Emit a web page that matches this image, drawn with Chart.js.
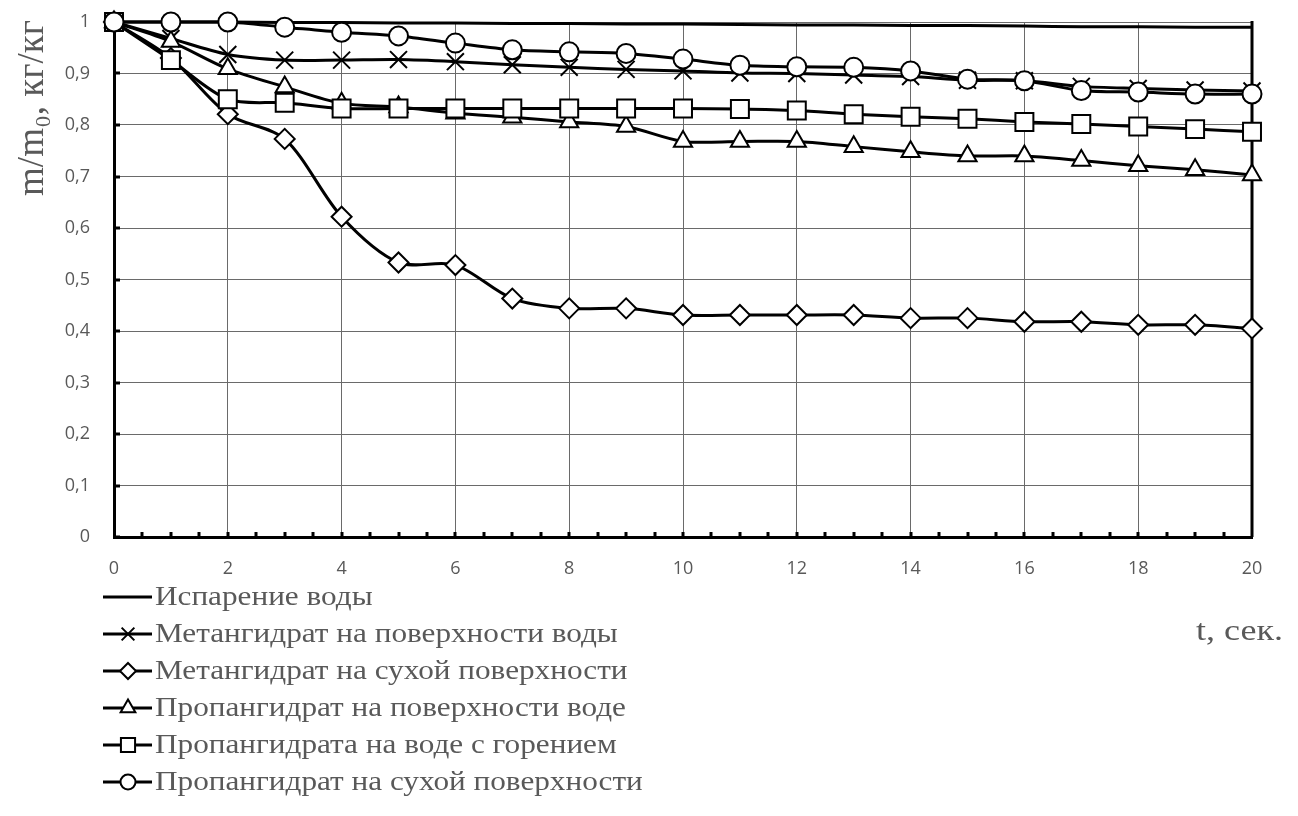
<!DOCTYPE html>
<html>
<head>
<meta charset="utf-8">
<script src="https://cdn.jsdelivr.net/npm/chart.js@4.4.1/dist/chart.umd.min.js"></script>
<style>
  html, body { margin: 0; padding: 0; background: #ffffff; }
  #wrap { width: 1298px; height: 816px; position: relative; }
</style>
</head>
<body>
<div id="wrap"><canvas id="c" width="1298" height="816"></canvas></div>
<script>
// ---- data ----
const timeSec = [0, 1, 2, 3, 4, 5, 6, 7, 8, 9, 10, 11, 12, 13, 14, 15, 16, 17, 18, 19, 20];
const seriesNames = [
  'Испарение воды',
  'Метангидрат на поверхности воды',
  'Метангидрат на сухой поверхности',
  'Пропангидрат на поверхности воде',
  'Пропангидрата на воде с горением',
  'Пропангидрат на сухой поверхности'
];
const waterEvap   = [1, 1, 1, 0.999, 0.999, 0.998, 0.998, 0.997, 0.997, 0.996, 0.996, 0.995, 0.994, 0.994, 0.993, 0.993, 0.992, 0.991, 0.991, 0.990, 0.990];
const methWater   = [1, 0.968, 0.937, 0.926, 0.926, 0.927, 0.923, 0.917, 0.912, 0.908, 0.905, 0.901, 0.900, 0.897, 0.894, 0.887, 0.886, 0.875, 0.871, 0.868, 0.866];
const methDry     = [1, 0.930, 0.821, 0.773, 0.622, 0.533, 0.528, 0.463, 0.444, 0.444, 0.431, 0.431, 0.431, 0.431, 0.425, 0.425, 0.418, 0.418, 0.412, 0.412, 0.405];
const propWater   = [1, 0.962, 0.909, 0.874, 0.842, 0.835, 0.823, 0.815, 0.806, 0.797, 0.768, 0.768, 0.768, 0.758, 0.748, 0.740, 0.740, 0.731, 0.721, 0.713, 0.703];
const propBurn    = [1, 0.926, 0.850, 0.843, 0.832, 0.832, 0.832, 0.832, 0.832, 0.832, 0.832, 0.831, 0.828, 0.821, 0.816, 0.812, 0.806, 0.802, 0.797, 0.792, 0.787];
const propDry     = [1, 1.0, 1.0, 0.990, 0.980, 0.973, 0.959, 0.946, 0.942, 0.939, 0.928, 0.916, 0.913, 0.912, 0.905, 0.889, 0.886, 0.867, 0.864, 0.860, 0.860];
const yTicks = [0, 0.1, 0.2, 0.3, 0.4, 0.5, 0.6, 0.7, 0.8, 0.9, 1];
const xTicks = [0, 2, 4, 6, 8, 10, 12, 14, 16, 18, 20];
const yTitle = 'm/m₀, кг/кг';
const xTitle = 't, сек.';

const allSeries = [waterEvap, methWater, methDry, propWater, propBurn, propDry];
const styles = [
  { pointStyle: false, radius: 0, legendR: 0 },
  { pointStyle: 'crossRot', radius: 12, legendR: 9 },
  { pointStyle: 'rectRot', radius: 10, legendR: 8 },
  { pointStyle: 'triangle', radius: 10.5, legendR: 8.5 },
  { pointStyle: 'rect', radius: 12.7, legendR: 10 },
  { pointStyle: 'circle', radius: 9.5, legendR: 7.5 }
];

const datasets = allSeries.map((vals, i) => ({
  label: seriesNames[i],
  data: timeSec.map((t, k) => ({ x: t, y: vals[k] })),
  borderColor: '#000000',
  borderWidth: 3,
  backgroundColor: '#ffffff',
  pointStyle: styles[i].pointStyle,
  pointRadius: styles[i].radius,
  pointHoverRadius: styles[i].radius,
  pointBackgroundColor: '#ffffff',
  pointBorderColor: '#000000',
  pointBorderWidth: 2,
  tension: 0.3,
  clip: false,
  order: 6 - i
}));

const TXT = '#595959';
const SERIF = '"Liberation Serif", "Times New Roman", serif';

function drawMarker(ctx, style, r, x, y) {
  ctx.save();
  ctx.lineWidth = 2;
  ctx.strokeStyle = '#000';
  ctx.fillStyle = '#fff';
  ctx.beginPath();
  if (style === 'circle') {
    ctx.arc(x, y, r, 0, Math.PI * 2);
    ctx.fill(); ctx.stroke();
  } else if (style === 'rect') {
    const s = r * Math.SQRT1_2;
    ctx.rect(x - s, y - s, 2 * s, 2 * s);
    ctx.fill(); ctx.stroke();
  } else if (style === 'rectRot') {
    ctx.moveTo(x, y - r); ctx.lineTo(x + r, y); ctx.lineTo(x, y + r); ctx.lineTo(x - r, y); ctx.closePath();
    ctx.fill(); ctx.stroke();
  } else if (style === 'triangle') {
    ctx.moveTo(x, y - r);
    ctx.lineTo(x + r * 0.866, y + r * 0.5);
    ctx.lineTo(x - r * 0.866, y + r * 0.5);
    ctx.closePath();
    ctx.fill(); ctx.stroke();
  } else if (style === 'crossRot') {
    const s = r * Math.SQRT1_2;
    ctx.moveTo(x - s, y - s); ctx.lineTo(x + s, y + s);
    ctx.moveTo(x + s, y - s); ctx.lineTo(x - s, y + s);
    ctx.stroke();
  }
  ctx.restore();
}

function stretchedText(ctx, text, x, y, sx) {
  ctx.save();
  ctx.translate(x, y);
  ctx.scale(sx, 1);
  ctx.fillText(text, 0, 0);
  ctx.restore();
}

const decor = {
  id: 'decor',
  beforeDatasetsDraw(chart) {
    const ctx = chart.ctx;
    const xs = chart.scales.x, ys = chart.scales.y;
    const bottom = ys.getPixelForValue(0), top = ys.getPixelForValue(1);
    ctx.save();
    ctx.strokeStyle = '#000';
    ctx.lineWidth = 3;
    for (let t = 0.5; t < 20; t += 0.5) {
      const px = Math.round(xs.getPixelForValue(t));
      ctx.beginPath();
      ctx.moveTo(px, bottom);
      ctx.lineTo(px, bottom - 5);
      ctx.stroke();
    }
    for (const v of yTicks) {
      const py = Math.round(ys.getPixelForValue(v));
      ctx.beginPath();
      ctx.moveTo(xs.getPixelForValue(0), py);
      ctx.lineTo(xs.getPixelForValue(0) + 6, py);
      ctx.stroke();
    }
    const rx = xs.getPixelForValue(20);
    ctx.beginPath();
    ctx.moveTo(rx, top - 1);
    ctx.lineTo(rx, bottom);
    ctx.stroke();
    ctx.restore();
  },
  afterDraw(chart) {
    const ctx = chart.ctx;
    ctx.save();
    ctx.fillStyle = TXT;
    ctx.font = '37px ' + SERIF;
    ctx.textAlign = 'center';
    ctx.textBaseline = 'alphabetic';
    ctx.translate(43, 108);
    ctx.rotate(-Math.PI / 2);
    ctx.fillText(yTitle, 0, 0);
    ctx.restore();

    ctx.save();
    ctx.fillStyle = TXT;
    ctx.font = '30px ' + SERIF;
    ctx.textAlign = 'left';
    ctx.textBaseline = 'alphabetic';
    stretchedText(ctx, xTitle, 1196, 640, 1.2);
    ctx.restore();

    ctx.save();
    ctx.font = '28px ' + SERIF;
    ctx.textAlign = 'left';
    ctx.textBaseline = 'middle';
    seriesNames.forEach((name, i) => {
      const y = 597 + i * 37;
      ctx.strokeStyle = '#000';
      ctx.lineWidth = 3;
      ctx.beginPath();
      ctx.moveTo(103, y);
      ctx.lineTo(152, y);
      ctx.stroke();
      if (styles[i].pointStyle) drawMarker(ctx, styles[i].pointStyle, styles[i].legendR, 128, y);
      ctx.fillStyle = TXT;
      stretchedText(ctx, name, 155, y + 1, 1.115);
    });
    ctx.restore();
  }
};

new Chart(document.getElementById('c'), {
  type: 'line',
  data: { datasets },
  options: {
    responsive: false,
    animation: false,
    events: [],
    layout: { padding: { left: 0, top: 22, right: 46, bottom: 229 } },
    plugins: { legend: { display: false }, tooltip: { enabled: false }, title: { display: false } },
    scales: {
      x: {
        type: 'linear',
        min: 0, max: 20,
        afterFit(s) { s.height = 50; s.paddingLeft = 10; s.paddingRight = 10; },
        afterBuildTicks(s) { s.ticks = xTicks.map(v => ({ value: v })); },
        grid: { color: '#6a6a6a', lineWidth: 1, drawTicks: false },
        border: { color: '#000', width: 3 },
        ticks: {
          padding: 21,
          color: TXT,
          font: { family: '"Open Sans", "Liberation Sans", sans-serif', size: 18 },
          maxRotation: 0,
          callback: v => String(v)
        }
      },
      y: {
        type: 'linear',
        min: 0, max: 1,
        afterFit(s) { s.width = 114; s.paddingTop = 11; s.paddingBottom = 11; },
        afterBuildTicks(s) { s.ticks = yTicks.map(v => ({ value: v })); },
        grid: { color: '#6a6a6a', lineWidth: 1, drawTicks: false },
        border: { color: '#000', width: 3 },
        ticks: {
          padding: 24,
          color: TXT,
          font: { family: '"Open Sans", "Liberation Sans", sans-serif', size: 18 },
          callback: v => String(Math.round(v * 10) / 10).replace('.', ',')
        }
      }
    }
  },
  plugins: [decor]
});
</script>
</body>
</html>
